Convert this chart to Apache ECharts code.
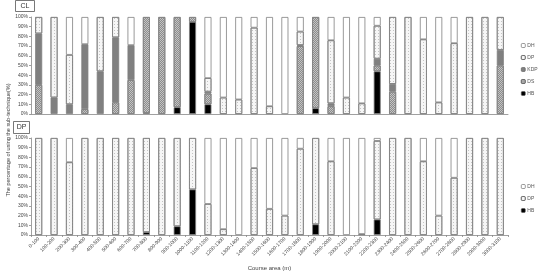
<!DOCTYPE html>
<html>
<head>
<meta charset="utf-8">
<script src="https://cdn.jsdelivr.net/npm/echarts@6/dist/echarts.min.js"></script>
<style>
	html, body { margin: 0; padding: 0; background: #fff; }
	#chart { width: 540px; height: 276px; }
</style>
</head>
<body>
<div id="chart"></div>
<script>
var dom = document.getElementById("chart");
var myChart = echarts.init(dom);
var option = null;

// 距离区间 (m)
var categories = ['0-100', '100-200', '200-300', '300-400', '400-500', '500-600', '600-700', '700-800',
	'800-900', '900-1000', '1000-1100', '1100-1200', '1200-1300', '1300-1400', '1400-1500', '1500-1600',
	'1600-1700', '1700-1800', '1800-1900', '1900-2000', '2000-2100', '2100-2200', '2200-2300', '2300-2400',
	'2400-2500', '2500-2600', '2600-2700', '2700-2800', '2800-2900', '2900-3000', '3000-3100'];

// y轴刻度
var yTicks = [0, 10, 20, 30, 40, 50, 60, 70, 80, 90, 100];

// CL 图 (%)
var clHB = [0, 0, 0, 0, 0, 0, 0, 1, 0, 7, 95, 10, 0, 0, 0, 0, 0, 0, 6, 0, 0, 0, 44, 0, 0, 0, 0, 0, 0, 0, 0];
var clDS = [30, 0, 0, 5, 0, 12, 35, 99, 100, 93, 5, 11, 0, 0, 0, 0, 0, 70, 94, 8, 0, 0, 6, 23, 0, 0, 0, 0, 0, 0, 50];
var clKDP = [53, 17, 10, 67, 44, 67, 36, 0, 0, 0, 0, 2, 0, 0, 0, 0, 0, 1, 0, 3, 0, 0, 7, 8, 0, 0, 0, 0, 0, 0, 16];
var clDP = [17, 83, 51, 0, 56, 21, 0, 0, 0, 0, 0, 14, 17, 15, 89, 8, 0, 14, 0, 65, 17, 11, 34, 69, 100, 77, 12, 73, 100, 100, 34];
var clDH = [0, 0, 39, 28, 0, 0, 29, 0, 0, 0, 0, 63, 83, 85, 11, 92, 100, 15, 0, 24, 83, 89, 9, 0, 0, 23, 88, 27, 0, 0, 0];

// DP 图 (%)
var dpHB = [0, 0, 0, 0, 0, 0, 0, 3, 0, 9, 47, 0, 0, 0, 0, 0, 0, 0, 11, 0, 0, 0, 16, 0, 0, 0, 0, 0, 0, 0, 0];
var dpDP = [100, 100, 75, 100, 100, 100, 100, 97, 100, 91, 53, 32, 6, 0, 69, 27, 20, 89, 89, 76, 0, 1, 81, 100, 100, 76, 20, 59, 100, 100, 100];
var dpDH = [0, 0, 25, 0, 0, 0, 0, 0, 0, 0, 0, 68, 94, 100, 31, 73, 80, 11, 0, 24, 100, 99, 3, 0, 0, 24, 80, 41, 0, 0, 0];

var font = 'Liberation Sans';
var borderColor = '#808080';

// 各技术的填充样式
var styles = {
	DH: { color: '#ffffff' },
	DP: { color: '#f6f6f6', decal: { symbol: 'rect', symbolSize: 1, dashArrayX: [1, 2], dashArrayY: [1, 2], color: '#c4c4c4' } },
	KDP: { color: '#808080' },
	DS: { color: '#c4c4c4', decal: { symbol: 'rect', symbolSize: 1, dashArrayX: [[1, 1], [0, 1, 1, 0]], dashArrayY: [1, 0], color: '#8c8c8c' } },
	HB: { color: '#000000' }
};

// 0 值不画
function clean(arr) {
	return arr.map(function(v) { return v === 0 ? null : v; });
}

function makeSeries(name, data, idx, stack) {
	var st = styles[name];
	var itemStyle = {
		color: st.color,
		borderColor: borderColor,
		borderWidth: 0.8
	};
	if (st.decal) itemStyle.decal = st.decal;
	return {
		name: name,
		type: 'bar',
		stack: stack,
		xAxisIndex: idx,
		yAxisIndex: idx,
		barWidth: 7,
		data: clean(data),
		itemStyle: itemStyle,
		emphasis: { disabled: true }
	};
}

function yAxis(idx) {
	return {
		gridIndex: idx,
		type: 'value',
		min: yTicks[0],
		max: yTicks[yTicks.length - 1],
		interval: 10,
		splitLine: { show: false },
		axisLine: { show: true, lineStyle: { color: '#888', width: 0.8 } },
		axisTick: { show: true, length: 2, lineStyle: { color: '#888', width: 0.8 } },
		axisLabel: { fontSize: 5, color: '#444', fontFamily: font, margin: 3, formatter: '{value}%' }
	};
}

function legendIcon(name) {
	return { name: name, itemStyle: { color: styles[name].color, borderColor: '#555', borderWidth: 0.6 } };
}

option = {
	animation: false,
	backgroundColor: '#fff',
	grid: [
		{ left: 31, right: 32, top: 17, height: 97 },
		{ left: 31, right: 32, top: 138, height: 97 }
	],
	xAxis: [{
		gridIndex: 0,
		type: 'category',
		data: categories,
		axisLine: { lineStyle: { color: '#888', width: 0.8 } },
		axisTick: { show: false },
		axisLabel: { show: false }
	}, {
		gridIndex: 1,
		type: 'category',
		data: categories,
		name: 'Course area (m)',
		nameLocation: 'middle',
		nameGap: 30,
		nameTextStyle: { fontSize: 6, color: '#444', fontFamily: font },
		axisLine: { lineStyle: { color: '#888', width: 0.8 } },
		axisTick: { show: true, length: 2, lineStyle: { color: '#888', width: 0.8 } },
		axisLabel: { interval: 0, rotate: 45, fontSize: 5, color: '#444', fontFamily: font, margin: 3 }
	}],
	yAxis: [yAxis(0), yAxis(1)],
	legend: [{
		orient: 'vertical',
		left: 516,
		top: 38,
		itemWidth: 4,
		itemHeight: 4,
		itemGap: 7,
		textStyle: { fontSize: 5, color: '#555', fontFamily: font, padding: [0, 0, 0, -3] },
		data: ['DH', 'DP', 'KDP', 'DS', 'HB'].map(legendIcon)
	}, {
		orient: 'vertical',
		left: 516,
		top: 179,
		itemWidth: 4,
		itemHeight: 4,
		itemGap: 7,
		textStyle: { fontSize: 5, color: '#555', fontFamily: font, padding: [0, 0, 0, -3] },
		data: ['DH', 'DP', 'HB'].map(legendIcon)
	}],
	graphic: [
		{ type: 'rect', shape: { x: 15.5, y: 0.5, width: 19, height: 11 }, style: { fill: '#fff', stroke: '#555', lineWidth: 0.8 } },
		{ type: 'text', x: 25, y: 6, style: { text: 'CL', font: '7px ' + font, fill: '#333', align: 'center', verticalAlign: 'middle' } },
		{ type: 'rect', shape: { x: 13.5, y: 121.5, width: 16, height: 12 }, style: { fill: '#fff', stroke: '#555', lineWidth: 0.8 } },
		{ type: 'text', x: 21.5, y: 127.5, style: { text: 'DP', font: '7px ' + font, fill: '#333', align: 'center', verticalAlign: 'middle' } },
		{ type: 'text', x: 8, y: 140, rotation: Math.PI / 2, style: { text: 'The percentage of using the sub-technique(%)', font: '5.5px ' + font, fill: '#444', align: 'center', verticalAlign: 'middle' } }
	],
	series: [
		makeSeries('HB', clHB, 0, 'cl'),
		makeSeries('DS', clDS, 0, 'cl'),
		makeSeries('KDP', clKDP, 0, 'cl'),
		makeSeries('DP', clDP, 0, 'cl'),
		makeSeries('DH', clDH, 0, 'cl'),
		makeSeries('HB', dpHB, 1, 'dp'),
		makeSeries('DP', dpDP, 1, 'dp'),
		makeSeries('DH', dpDH, 1, 'dp')
	]
};

if (option && typeof option === "object") {
	myChart.setOption(option, true);
}
</script>
</body>
</html>
